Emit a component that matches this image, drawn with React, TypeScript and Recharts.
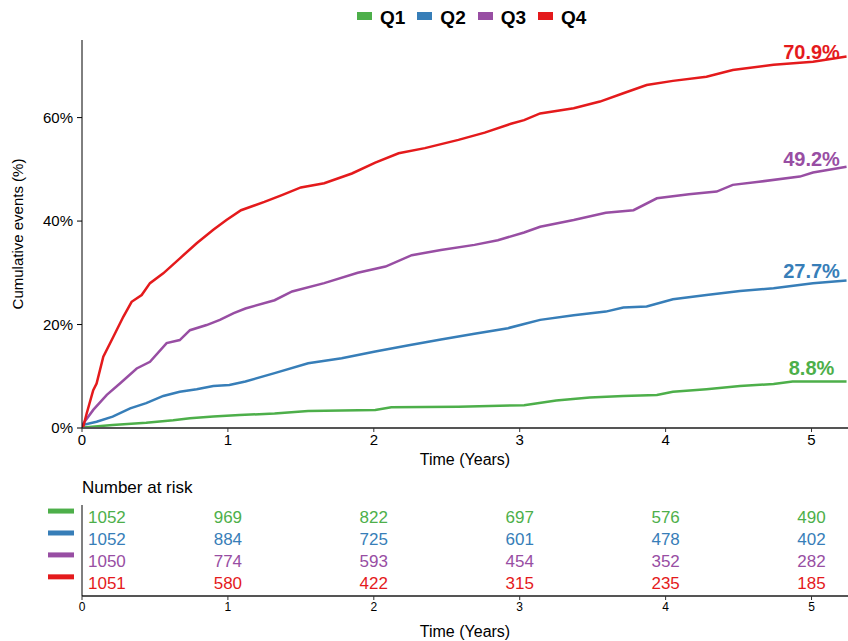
import { ComposedChart, Line, Scatter, XAxis, YAxis } from 'recharts';

// cumulative incidence (%), [years, percent]
const q1Curve = [
  [0, 0], [0.01, 0.1], [0.21, 0.6], [0.44, 1.0], [0.625, 1.5], [0.74, 1.9], [0.9, 2.2], [1.08, 2.5],
  [1.32, 2.8], [1.55, 3.3], [2.01, 3.5], [2.12, 4.0], [2.58, 4.1], [3.03, 4.4], [3.25, 5.3], [3.48, 5.9],
  [3.71, 6.2], [3.94, 6.4], [4.05, 7.0], [4.28, 7.5], [4.51, 8.1], [4.74, 8.5], [4.87, 9.0], [5.24, 9.0],
];
const q2Curve = [
  [0, 0], [0.01, 0.6], [0.1, 1.2], [0.21, 2.2], [0.33, 3.8], [0.44, 4.8], [0.557, 6.2], [0.67, 7.0],
  [0.786, 7.5], [0.9, 8.1], [1.01, 8.3], [1.12, 9.0], [1.32, 10.6], [1.55, 12.5], [1.78, 13.5], [2.01, 14.8],
  [2.24, 16.0], [2.46, 17.1], [2.69, 18.2], [2.92, 19.3], [3.03, 20.1], [3.14, 20.9], [3.37, 21.8], [3.59, 22.5],
  [3.71, 23.3], [3.87, 23.5], [4.05, 24.9], [4.28, 25.7], [4.51, 26.5], [4.74, 27.0], [5.01, 28.0], [5.24, 28.5],
];
const q3Curve = [
  [0, 0], [0.01, 0.9], [0.077, 3.5], [0.17, 6.4], [0.26, 8.6], [0.375, 11.5], [0.466, 12.8], [0.58, 16.4],
  [0.67, 17.0], [0.74, 18.9], [0.854, 19.9], [0.945, 20.9], [1.04, 22.2], [1.12, 23.1], [1.32, 24.7], [1.44, 26.4],
  [1.66, 28.0], [1.89, 30.0], [2.08, 31.2], [2.26, 33.4], [2.46, 34.4], [2.69, 35.4], [2.85, 36.3], [3.03, 37.8],
  [3.14, 38.9], [3.37, 40.2], [3.59, 41.6], [3.78, 42.1], [3.94, 44.4], [4.16, 45.2], [4.35, 45.7], [4.46, 47.0],
  [4.64, 47.6], [4.92, 48.6], [5.01, 49.4], [5.24, 50.5],
];
const q4Curve = [
  [0, 0], [0.009, 0.3], [0.032, 2.8], [0.077, 7.3], [0.1, 8.6], [0.146, 13.8], [0.214, 17.6], [0.283, 21.5],
  [0.34, 24.4], [0.409, 25.7], [0.466, 28.0], [0.557, 29.9], [0.671, 32.8], [0.786, 35.7], [0.9, 38.3], [0.99, 40.2],
  [1.09, 42.1], [1.25, 43.7], [1.37, 45.0], [1.5, 46.5], [1.66, 47.3], [1.85, 49.2], [2.01, 51.3], [2.17, 53.1],
  [2.35, 54.1], [2.58, 55.7], [2.76, 57.1], [2.94, 58.8], [3.03, 59.5], [3.14, 60.8], [3.37, 61.8], [3.55, 63.1],
  [3.71, 64.7], [3.87, 66.3], [4.05, 67.1], [4.28, 67.9], [4.46, 69.2], [4.74, 70.2], [5.01, 70.8], [5.24, 71.8],
];

const groups = ['Q1', 'Q2', 'Q3', 'Q4'];
const colors = ['#4DAF4A', '#377EB8', '#984EA3', '#E41A1C'];
const curves = [q1Curve, q2Curve, q3Curve, q4Curve];

// 5-year estimates shown at the end of the curves
const labelTime = 5;
const finalPct = [8.8, 27.7, 49.2, 70.9];

const yearTicks = [0, 1, 2, 3, 4, 5];
const pctTicks = [0, 20, 40, 60];

// number at risk table
const riskTimes = [0, 1, 2, 3, 4, 5];
const q1Risk = [1052, 969, 822, 697, 576, 490];
const q2Risk = [1052, 884, 725, 601, 478, 402];
const q3Risk = [1050, 774, 593, 454, 352, 282];
const q4Risk = [1051, 580, 422, 315, 235, 185];
const riskRows = [q1Risk, q2Risk, q3Risk, q4Risk];
const rowTicks = [1, 2, 3, 4];

const FONT = '"Liberation Sans", Arial, Helvetica, sans-serif';

const endLabelData = finalPct.map((v, i) => ({ t: labelTime, v, text: `${v}%`, color: colors[i] }));

const riskData = riskRows.flatMap((row, r) =>
  row.map((n, i) => ({ t: riskTimes[i], row: r + 1, n, color: colors[r] }))
);

function EndLabel(props: any) {
  const { cx, cy, payload } = props;
  // keep the top label inside the panel
  const y = Math.max(cy - 7, 59);
  return (
    <text x={cx} y={y} textAnchor="middle" fill={payload.color} fontSize={20} fontWeight={700} fontFamily={FONT}>
      {payload.text}
    </text>
  );
}

function RiskCell(props: any) {
  const { cx, cy, payload } = props;
  const first = payload.t === 0;
  return (
    <text
      x={first ? cx + 6 : cx}
      y={cy}
      dy="0.36em"
      textAnchor={first ? 'start' : 'middle'}
      fill={payload.color}
      fontSize={17}
      fontFamily={FONT}
    >
      {payload.n}
    </text>
  );
}

function RiskTick(props: any) {
  const { y, payload } = props;
  const c = colors[payload.value - 1];
  return <rect x={48} y={y - 8.5} width={26} height={5} fill={c} />;
}

function YLabel(props: any) {
  const vb = props.viewBox;
  const cy = vb.y + vb.height / 2;
  return (
    <text x={18} y={cy} transform={`rotate(-90, 18, ${cy})`} textAnchor="middle" dy="0.36em" fontSize={15} fontFamily={FONT} fill="#000">
      Cumulative events (%)
    </text>
  );
}

export default function App() {
  return (
    <div style={{ position: 'absolute', left: 0, top: 0, width: 848, height: 641, background: '#fff', fontFamily: FONT }}>
      <div style={{ position: 'absolute', left: 357, top: 7, display: 'flex', alignItems: 'center' }}>
        {groups.map((g, i) => (
          <div key={g} style={{ display: 'flex', alignItems: 'center', marginRight: 12 }}>
            <div style={{ width: 15, height: 8, background: colors[i], marginRight: 8, position: 'relative', top: -2 }} />
            <span style={{ fontSize: 19, fontWeight: 700, color: '#000' }}>{g}</span>
          </div>
        ))}
      </div>

      <div style={{ position: 'absolute', left: 0, top: 0 }}>
        <ComposedChart width={848} height={470} margin={{ top: 40, right: 0, bottom: 0, left: 0 }}>
          <XAxis
            type="number"
            dataKey="t"
            domain={[0, 5.25]}
            ticks={yearTicks}
            interval={0}
            allowDataOverflow
            height={42}
            tickSize={4}
            tickMargin={2}
            axisLine={{ stroke: '#555', strokeWidth: 2 }}
            tickLine={{ stroke: '#333' }}
            tick={{ fontSize: 15, fill: '#000', fontFamily: FONT }}
            label={{ value: 'Time (Years)', position: 'insideBottom', offset: 5, fontSize: 16, fill: '#000', fontFamily: FONT }}
          />
          <YAxis
            type="number"
            dataKey="v"
            domain={[0, 75]}
            ticks={pctTicks}
            interval={0}
            allowDataOverflow
            width={82}
            tickSize={5}
            tickMargin={4}
            tickFormatter={(v) => `${v}%`}
            axisLine={{ stroke: '#000' }}
            tickLine={{ stroke: '#000' }}
            tick={{ fontSize: 15, fill: '#000', fontFamily: FONT }}
            label={<YLabel />}
          />
          {curves.map((c, i) => (
            <Line
              key={groups[i]}
              data={c.map(([t, v]) => ({ t, v }))}
              dataKey="v"
              type="linear"
              stroke={colors[i]}
              strokeWidth={2.5}
              dot={false}
              activeDot={false}
              isAnimationActive={false}
            />
          ))}
          <Scatter data={endLabelData} dataKey="v" shape={<EndLabel />} isAnimationActive={false} />
        </ComposedChart>
      </div>

      <div style={{ position: 'absolute', left: 82, top: 477.5, fontSize: 17, color: '#000', lineHeight: 'normal' }}>
        Number at risk
      </div>

      <div style={{ position: 'absolute', left: 0, top: 470 }}>
        <ComposedChart width={848} height={171} margin={{ top: 35, right: 0, bottom: 0, left: 0 }}>
          <XAxis
            type="number"
            dataKey="t"
            domain={[0, 5.25]}
            ticks={riskTimes}
            interval={0}
            allowDataOverflow
            height={45}
            tickSize={4}
            tickMargin={2}
            axisLine={{ stroke: '#555', strokeWidth: 2 }}
            tickLine={{ stroke: '#333' }}
            tick={{ fontSize: 12, fill: '#000', fontFamily: FONT }}
            label={{ value: 'Time (Years)', position: 'insideBottom', offset: 4.5, fontSize: 16, fill: '#000', fontFamily: FONT }}
          />
          <YAxis
            type="number"
            dataKey="row"
            domain={[0.45, 4.6]}
            ticks={rowTicks}
            interval={0}
            reversed
            allowDataOverflow
            width={82}
            axisLine={{ stroke: '#000' }}
            tickLine={false}
            tick={<RiskTick />}
          />
          <Scatter data={riskData} shape={<RiskCell />} isAnimationActive={false} />
        </ComposedChart>
      </div>
    </div>
  );
}
